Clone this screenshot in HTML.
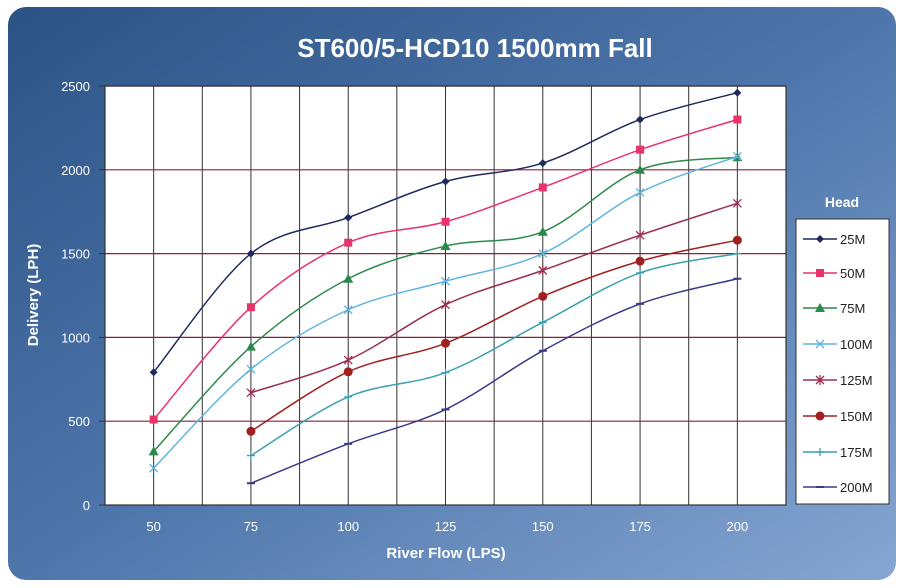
<!DOCTYPE html>
<html><head><meta charset="utf-8"><style>
html,body{margin:0;padding:0;background:#fff;}
svg{display:block;font-family:"Liberation Sans",sans-serif;}
</style></head><body>
<svg id="s" width="906" height="588" viewBox="0 0 906 588">
<defs>
<linearGradient id="bg" x1="0" y1="0" x2="1" y2="1">
<stop offset="0" stop-color="#2c5385"/><stop offset="0.5" stop-color="#4e76ab"/><stop offset="1" stop-color="#86a6d2"/>
</linearGradient>
</defs>
<rect x="8" y="7" width="888" height="573" rx="18" fill="url(#bg)"/>
<text x="475" y="57" text-anchor="middle" font-size="26" font-weight="bold" fill="#fff">ST600/5-HCD10  1500mm Fall</text>
<rect x="105" y="86" width="681" height="419" fill="#fff"/>
<g id="grid"></g>
<g id="series"></g>
<text transform="translate(38,295) rotate(-90)" text-anchor="middle" font-size="15" font-weight="bold" fill="#fff">Delivery (LPH)</text>
<text x="446" y="558" text-anchor="middle" font-size="15" font-weight="bold" fill="#fff">River Flow (LPS)</text>
<text x="842" y="207" text-anchor="middle" font-size="14" font-weight="bold" fill="#fff">Head</text>
<rect x="796" y="219" width="93" height="285" fill="#fff" stroke="#333" stroke-width="1"/>
<g id="leg"></g>
</svg>
<script>
var NS="http://www.w3.org/2000/svg";
function el(t,a,p,txt){var e=document.createElementNS(NS,t);for(var k in a)e.setAttribute(k,a[k]);if(txt!=null)e.textContent=txt;p.appendChild(e);return e;}
var L=105,R=786,T=86,B=505,step=(R-L)/14;
function X(i){return L+step*(1+2*i);}
function Y(v){return B-(B-T)*v/2500;}
var g=document.getElementById('grid');
for(var k=0;k<=14;k++){var x=L+step*k;el('line',{x1:x,y1:T,x2:x,y2:B,stroke:'#333','stroke-width':1},g);}
for(var v=500;v<=2500;v+=500){el('line',{x1:L,y1:Y(v),x2:R,y2:Y(v),stroke:'#8a2040','stroke-width':1.2},g);}
el('rect',{x:L,y:T,width:R-L,height:B-T,fill:'none',stroke:'#333','stroke-width':1.2},g);
for(var v=0;v<=2500;v+=500){el('line',{x1:L-6,y1:Y(v),x2:L,y2:Y(v),stroke:'#333'},g);el('text',{x:L-15,y:Y(v)+5,'text-anchor':'end','font-size':13,fill:'#fff'},g,v);}
var cats=[50,75,100,125,150,175,200];
cats.forEach(function(c,i){el('text',{x:X(i),y:531,'text-anchor':'middle','font-size':13,fill:'#fff'},g,c);});
var S=[
['25M','#1f2a5e','d',[792,1500,1715,1930,2040,2300,2460]],
['50M','#e8336b','s',[510,1180,1565,1690,1895,2120,2300]],
['75M','#2a8a4a','t',[320,945,1350,1545,1630,2000,2075]],
['100M','#5fb4e0','x',[220,810,1165,1335,1500,1865,2080]],
['125M','#9a3050','*',[null,670,865,1195,1400,1610,1800]],
['150M','#a02020','o',[null,440,795,965,1245,1455,1580]],
['175M','#3aa0b0','+',[null,295,645,790,1090,1385,1500]],
['200M','#3a3a8a','-',[null,130,365,570,920,1200,1350]]];
var sg=document.getElementById('series'),lg=document.getElementById('leg');
function marker(p,m,x,y,c){
 if(m=='d')el('path',{d:'M'+x+' '+(y-4)+'L'+(x+4)+' '+y+'L'+x+' '+(y+4)+'L'+(x-4)+' '+y+'Z',fill:c},p);
 else if(m=='s')el('rect',{x:x-4,y:y-4,width:8,height:8,fill:c},p);
 else if(m=='t')el('path',{d:'M'+x+' '+(y-5)+'L'+(x+5)+' '+(y+4)+'L'+(x-5)+' '+(y+4)+'Z',fill:c},p);
 else if(m=='x')el('path',{d:'M'+(x-4)+' '+(y-4)+'L'+(x+4)+' '+(y+4)+'M'+(x+4)+' '+(y-4)+'L'+(x-4)+' '+(y+4),stroke:c,'stroke-width':1.3},p);
 else if(m=='*')el('path',{d:'M'+(x-4)+' '+(y-4)+'L'+(x+4)+' '+(y+4)+'M'+(x+4)+' '+(y-4)+'L'+(x-4)+' '+(y+4)+'M'+x+' '+(y-5)+'L'+x+' '+(y+5),stroke:c,'stroke-width':1.3},p);
 else if(m=='o')el('circle',{cx:x,cy:y,r:4.5,fill:c},p);
 else if(m=='+')el('path',{d:'M'+(x-4)+' '+y+'L'+(x+4)+' '+y+'M'+x+' '+(y-4)+'L'+x+' '+(y+4),stroke:c,'stroke-width':1.3},p);
 else el('path',{d:'M'+(x-4)+' '+y+'L'+(x+4)+' '+y,stroke:c,'stroke-width':2},p);
}
S.forEach(function(s,si){
 var pts=[];s[3].forEach(function(v,i){if(v!=null)pts.push([X(i),Y(v)]);});
 var d='M'+pts[0][0]+' '+pts[0][1];
 for(var i=0;i<pts.length-1;i++){
  var p0=pts[Math.max(0,i-1)],p1=pts[i],p2=pts[i+1],p3=pts[Math.min(pts.length-1,i+2)],t=1/6;
  d+='C'+(p1[0]+(p2[0]-p0[0])*t)+' '+(p1[1]+(p2[1]-p0[1])*t)+' '+(p2[0]-(p3[0]-p1[0])*t)+' '+(p2[1]-(p3[1]-p1[1])*t)+' '+p2[0]+' '+p2[1];
 }
 el('path',{d:d,fill:'none',stroke:s[1],'stroke-width':1.5},sg);
 pts.forEach(function(p){marker(sg,s[2],p[0],p[1],s[1]);});
 var ly=[239,273,308,344,380,416,452,487][si];
 el('line',{x1:803,y1:ly,x2:837,y2:ly,stroke:s[1],'stroke-width':1.5},lg);
 marker(lg,s[2],820,ly,s[1]);
 el('text',{x:840,y:ly+5,'font-size':13,fill:'#222'},lg,s[0]);
});
</script>
</body></html>
